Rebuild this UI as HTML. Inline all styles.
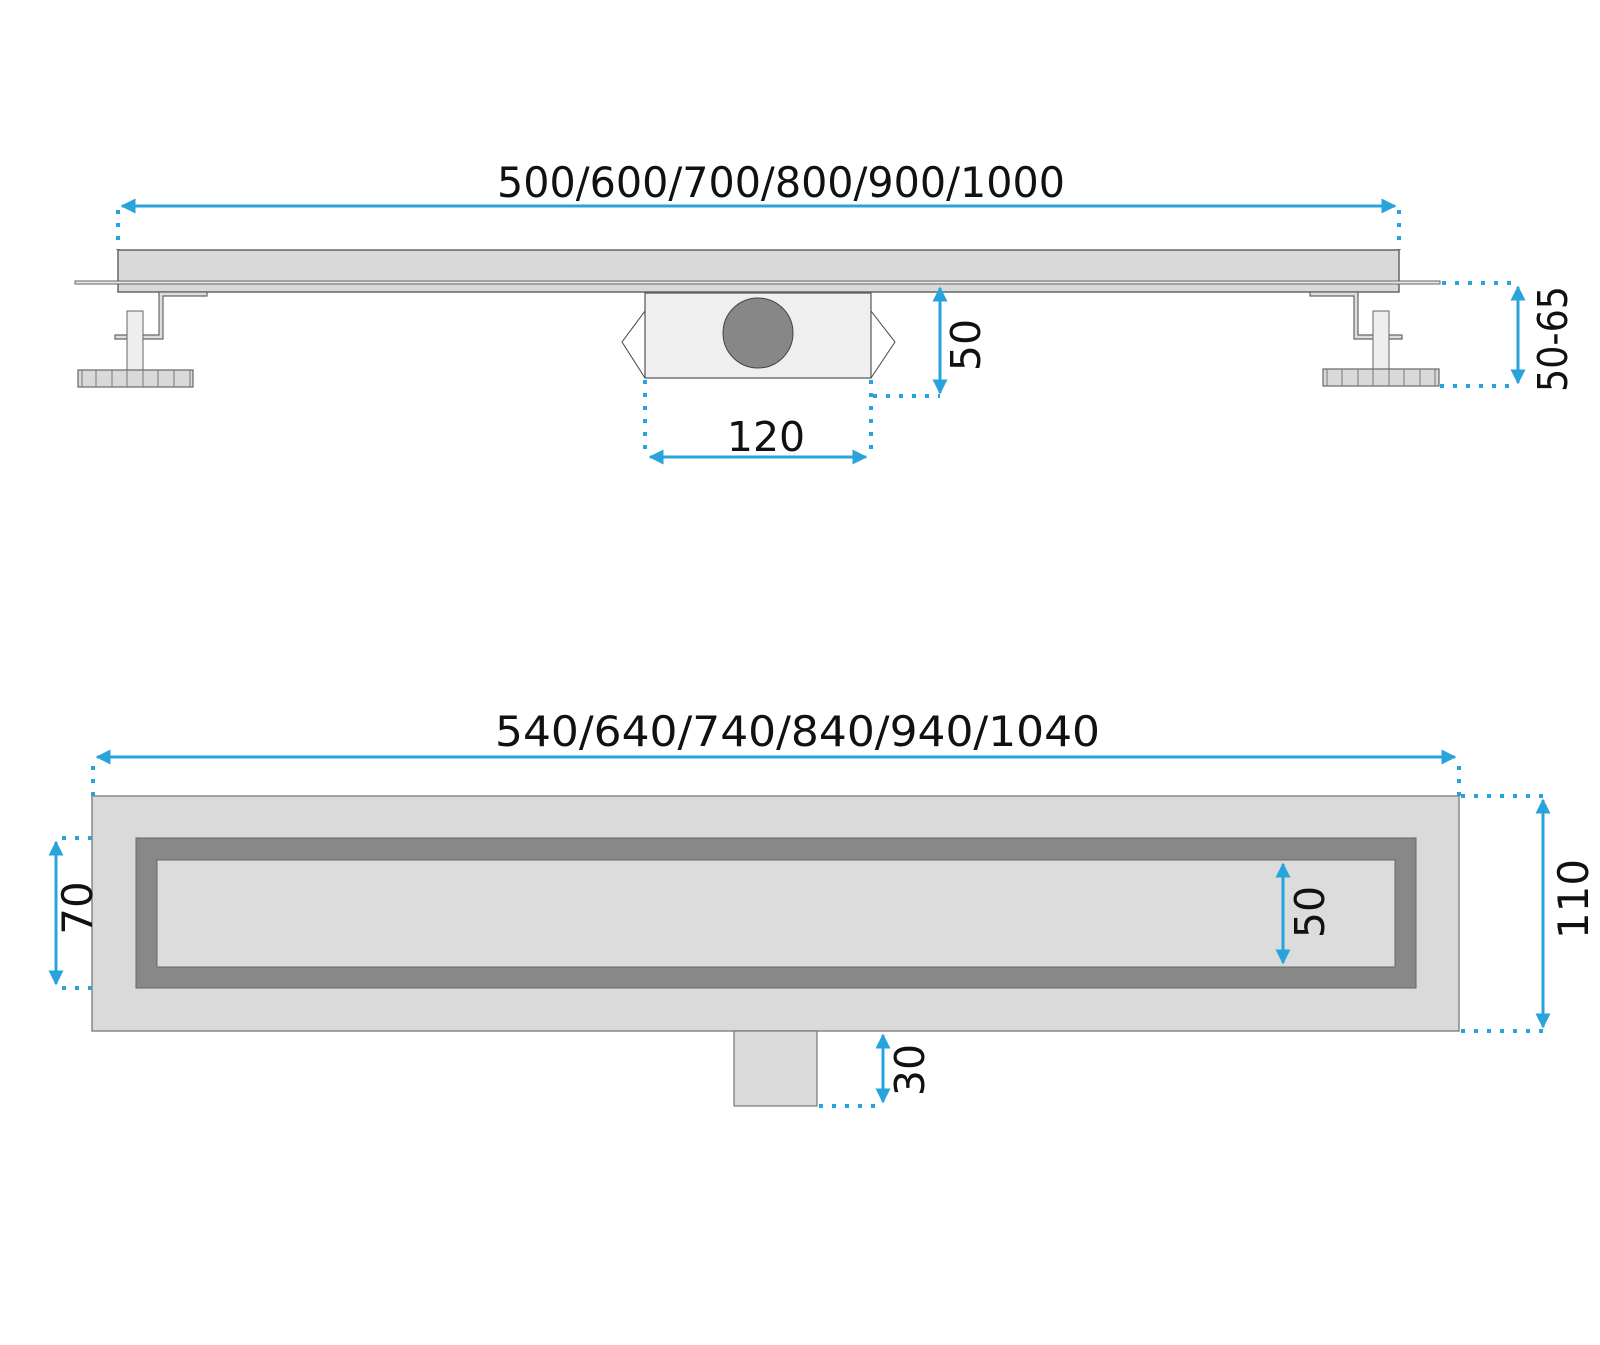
<!DOCTYPE html>
<html><head><meta charset="utf-8"><style>html,body{margin:0;padding:0;background:#fff}svg{display:block}</style></head>
<body>
<svg width="1600" height="1345" viewBox="0 0 1600 1345" xmlns="http://www.w3.org/2000/svg">
<defs>
<marker id="a" viewBox="0 0 10 10" refX="9" refY="5" markerWidth="5" markerHeight="5" orient="auto-start-reverse" markerUnits="strokeWidth"><path d="M0,0 L10,5 L0,10 z" fill="#29a3dc"/></marker>
</defs>
<g font-family="'DejaVu Sans','Liberation Sans',sans-serif" fill="#111" font-size="42">
<!-- TOP VIEW -->
<text x="497" y="197" textLength="568" lengthAdjust="spacingAndGlyphs">500/600/700/800/900/1000</text>
<line x1="122" y1="206" x2="1395" y2="206" stroke="#29a3dc" stroke-width="3" marker-start="url(#a)" marker-end="url(#a)"/>
<g stroke="#29a3dc" stroke-width="4" stroke-dasharray="4 9" fill="none">
<line x1="118" y1="210" x2="118" y2="250"/>
<line x1="1399" y1="210" x2="1399" y2="250"/>
<line x1="1442" y1="283" x2="1515" y2="283"/>
<line x1="1440" y1="386" x2="1515" y2="386"/>
<line x1="645" y1="380" x2="645" y2="455"/>
<line x1="871" y1="380" x2="871" y2="455"/>
<line x1="873" y1="396" x2="940" y2="396"/>
</g>
<!-- bar -->
<rect x="118" y="250" width="1281" height="42" fill="#d9d9d9" stroke="#666" stroke-width="1.5"/>
<rect x="75" y="281" width="1365" height="3" fill="#e6e6e6" stroke="#666" stroke-width="1"/>
<!-- left bracket -->
<path d="M159,292 L207,292 L207,296 L163,296 L163,339 L115,339 L115,335 L159,335 Z" fill="#ddd" stroke="#666" stroke-width="1.2"/>
<rect x="127" y="311" width="16" height="59" fill="#eee" stroke="#666" stroke-width="1"/>
<rect x="78" y="370" width="115" height="17" fill="#d9d9d9" stroke="#666" stroke-width="1.2"/>
<g stroke="#777" stroke-width="1"><line x1="82" y1="370" x2="82" y2="387"/><line x1="96" y1="370" x2="96" y2="387"/><line x1="112" y1="370" x2="112" y2="387"/><line x1="127" y1="370" x2="127" y2="387"/><line x1="143" y1="370" x2="143" y2="387"/><line x1="158" y1="370" x2="158" y2="387"/><line x1="174" y1="370" x2="174" y2="387"/><line x1="190" y1="370" x2="190" y2="387"/></g>
<!-- right bracket -->
<path d="M1310,292 L1358,292 L1358,335 L1402,335 L1402,339 L1354,339 L1354,296 L1310,296 Z" fill="#ddd" stroke="#666" stroke-width="1.2"/>
<rect x="1373" y="311" width="16" height="58" fill="#eee" stroke="#666" stroke-width="1"/>
<rect x="1323" y="369" width="116" height="17" fill="#d9d9d9" stroke="#666" stroke-width="1.2"/>
<g stroke="#777" stroke-width="1"><line x1="1327" y1="369" x2="1327" y2="386"/><line x1="1342" y1="369" x2="1342" y2="386"/><line x1="1358" y1="369" x2="1358" y2="386"/><line x1="1373" y1="369" x2="1373" y2="386"/><line x1="1389" y1="369" x2="1389" y2="386"/><line x1="1404" y1="369" x2="1404" y2="386"/><line x1="1420" y1="369" x2="1420" y2="386"/><line x1="1435" y1="369" x2="1435" y2="386"/></g>
<!-- center box -->
<rect x="645" y="293" width="226" height="85" fill="#efefef" stroke="#555" stroke-width="1.2"/>
<polyline points="645,311 622,342 645,378" fill="none" stroke="#444" stroke-width="1"/>
<polyline points="871,311 895,342 871,378" fill="none" stroke="#444" stroke-width="1"/>
<circle cx="758" cy="333" r="35" fill="#878787" stroke="#444" stroke-width="1"/>
<line x1="940" y1="288" x2="940" y2="393" stroke="#29a3dc" stroke-width="3" marker-start="url(#a)" marker-end="url(#a)"/>
<line x1="650" y1="457" x2="866" y2="457" stroke="#29a3dc" stroke-width="3" marker-start="url(#a)" marker-end="url(#a)"/>
<text x="766" y="451" text-anchor="middle" font-size="41">120</text>
<text transform="translate(980,345) rotate(-90)" text-anchor="middle" font-size="41">50</text>
<line x1="1518" y1="287" x2="1518" y2="383" stroke="#29a3dc" stroke-width="3" marker-start="url(#a)" marker-end="url(#a)"/>
<text transform="translate(1567,339) rotate(-90)" text-anchor="middle" font-size="41" textLength="106" lengthAdjust="spacingAndGlyphs">50-65</text>

<!-- BOTTOM VIEW -->
<text x="495" y="746" textLength="605" lengthAdjust="spacingAndGlyphs">540/640/740/840/940/1040</text>
<line x1="97" y1="757" x2="1455" y2="757" stroke="#29a3dc" stroke-width="3" marker-start="url(#a)" marker-end="url(#a)"/>
<g stroke="#29a3dc" stroke-width="4" stroke-dasharray="4 9" fill="none">
<line x1="93" y1="766" x2="93" y2="796"/>
<line x1="1459" y1="766" x2="1459" y2="796"/>
<line x1="1461" y1="796" x2="1543" y2="796"/>
<line x1="1461" y1="1031" x2="1543" y2="1031"/>
<line x1="62" y1="838" x2="136" y2="838"/>
<line x1="62" y1="988" x2="136" y2="988"/>
<line x1="819" y1="1106" x2="883" y2="1106"/>
</g>
<rect x="92" y="796" width="1367" height="235" fill="#dadada" stroke="#888" stroke-width="1.5"/>
<rect x="136" y="838" width="1280" height="150" fill="#888" stroke="#666" stroke-width="1"/>
<rect x="157" y="860" width="1238" height="107" fill="#dcdcdc" stroke="#666" stroke-width="1"/>
<rect x="734" y="1031" width="83" height="75" fill="#dadada" stroke="#777" stroke-width="1.2"/>
<line x1="1543" y1="800" x2="1543" y2="1027" stroke="#29a3dc" stroke-width="3" marker-start="url(#a)" marker-end="url(#a)"/>
<text transform="translate(1588,899) rotate(-90)" text-anchor="middle" font-size="42">110</text>
<line x1="56" y1="842" x2="56" y2="984" stroke="#29a3dc" stroke-width="3" marker-start="url(#a)" marker-end="url(#a)"/>
<text transform="translate(92,908) rotate(-90)" text-anchor="middle" font-size="42">70</text>
<line x1="1283" y1="864" x2="1283" y2="963" stroke="#29a3dc" stroke-width="3" marker-start="url(#a)" marker-end="url(#a)"/>
<text transform="translate(1324,912) rotate(-90)" text-anchor="middle" font-size="41">50</text>
<line x1="883" y1="1035" x2="883" y2="1102" stroke="#29a3dc" stroke-width="3" marker-start="url(#a)" marker-end="url(#a)"/>
<text transform="translate(924,1070) rotate(-90)" text-anchor="middle" font-size="41">30</text>
</g>
</svg>
</body></html>
